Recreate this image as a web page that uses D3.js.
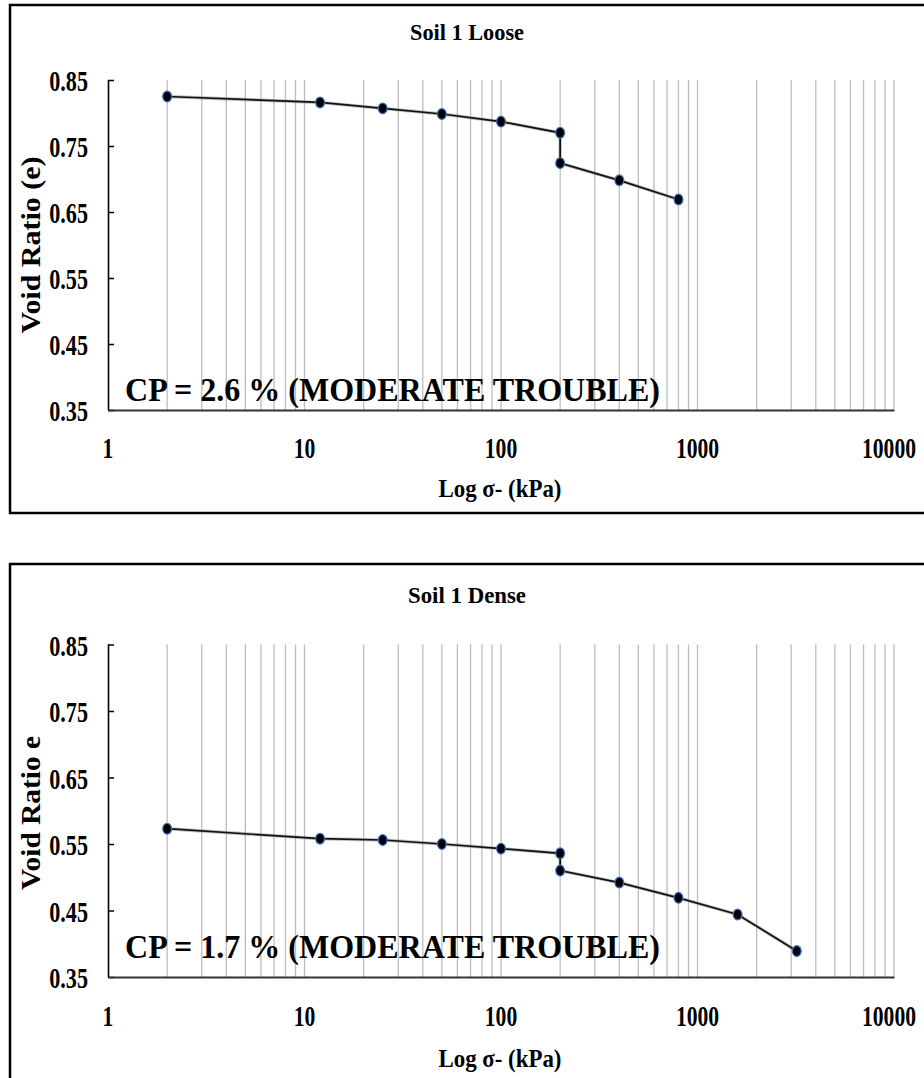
<!DOCTYPE html>
<html>
<head>
<meta charset="utf-8">
<script src="https://cdn.jsdelivr.net/npm/d3@7"></script>
<style>
  html, body { margin: 0; padding: 0; background: #fff; }
  svg text { font-family: "Liberation Serif", "Times New Roman", Tinos, serif; font-weight: 700; fill: #000; }
</style>
</head>
<body>
<svg id="chart" width="924" height="1078" font-family="Liberation Serif, Times New Roman, serif"></svg>
<script>
// ---- data ----
const looseStress = [2, 12, 25, 50, 100, 200, 200, 400, 800];
const looseVoid   = [0.825, 0.816, 0.807, 0.7985, 0.787, 0.770, 0.724, 0.698, 0.669];
const denseStress = [2, 12, 25, 50, 100, 200, 200, 400, 800, 1600, 3200];
const denseVoid   = [0.573, 0.558, 0.556, 0.550, 0.543, 0.536, 0.510, 0.492, 0.469, 0.444, 0.389];
const yTicks = [0.35, 0.45, 0.55, 0.65, 0.75, 0.85];
const xTickValues = [1, 10, 100, 1000, 10000];
const xTickLabels = ["1", "10", "100", "1000", "10000"];
const titles = ["Soil 1 Loose", "Soil 1 Dense"];
const yTitles = ["Void Ratio (e)", "Void Ratio e"];
const xTitle = "Log σ- (kPa)";
const cpLabels = ["CP = 2.6 % (MODERATE TROUBLE)", "CP = 1.7 % (MODERATE TROUBLE)"];

// ---- layout ----
const panels = [
  { stress: looseStress, voids: looseVoid, title: titles[0], yTitle: yTitles[0], cp: cpLabels[0],
    boxTop: 5, boxH: 508, plotTop: 80, plotBottom: 410, titleY: 32, tickY: 448, xTitleY: 488,
    yTitleY: 245, yTitleLen: 177, cpY: 400.5, titleLen: 114 },
  { stress: denseStress, voids: denseVoid, title: titles[1], yTitle: yTitles[1], cp: cpLabels[1],
    boxTop: 564, boxH: 620, plotTop: 644.5, plotBottom: 977, titleY: 595, tickY: 1016, xTitleY: 1058,
    yTitleY: 813, yTitleLen: 154, cpY: 958, titleLen: 118 }
];

const svg = d3.select("#chart");
svg.append("rect").attr("width", 924).attr("height", 1078).attr("fill", "#fff");

function fitTo(sel, width) {
  sel.attr("textLength", width).attr("lengthAdjust", "spacingAndGlyphs");
}
// approximate label width: ~10.8 px per digit, ~5.4 px per point
function labelWidth(s) {
  let w = 0;
  for (const c of s) w += (c === ".") ? 5.4 : 10.8;
  return w;
}

const x = d3.scaleLog().domain([1, 10000]).range([108, 894]);

panels.forEach(p => {
  const y = d3.scaleLinear().domain([0.35, 0.85]).range([p.plotBottom, p.plotTop]);
  const g = svg.append("g");

  // outer frame
  g.append("rect").attr("x", 10).attr("y", p.boxTop).attr("width", 940).attr("height", p.boxH)
    .attr("fill", "none").attr("stroke", "#000").attr("stroke-width", 2.5);

  // vertical grid lines
  const grid = x.ticks().filter(v => v > 1);
  g.append("g").selectAll("line").data(grid).join("line")
    .attr("x1", d => x(d)).attr("x2", d => x(d))
    .attr("y1", p.plotTop).attr("y2", p.plotBottom)
    .attr("stroke", "#bdbdbd").attr("stroke-width", 1.3);

  // y axis
  const yAxis = d3.axisRight(y).tickValues(yTicks).tickSize(6).tickFormat("");
  const ya = g.append("g").attr("transform", "translate(108,0)").call(yAxis);
  ya.select(".domain").attr("stroke", "#000").attr("stroke-width", 1.6).attr("d",
    `M0.5,${p.plotTop}V${p.plotBottom}`);
  ya.selectAll(".tick line").attr("stroke", "#000").attr("stroke-width", 1.5);

  // y tick labels
  g.append("g").selectAll("text").data(yTicks).join("text")
    .attr("x", 88).attr("y", d => y(d) + 1)
    .attr("text-anchor", "end").attr("dominant-baseline", "central")
    .attr("font-size", 29).text(d => d.toFixed(2))
    .each(function(d) { d3.select(this).call(fitTo, labelWidth(d.toFixed(2)) + 1); });

  // x axis line
  const xAxis = d3.axisBottom(x).tickValues(xTickValues).tickSize(0).tickFormat("");
  const xa = g.append("g").attr("transform", `translate(0,${p.plotBottom})`).call(xAxis);
  xa.select(".domain").attr("stroke", "#333").attr("stroke-width", 2.2);

  // x tick labels
  g.append("g").selectAll("text").data(xTickValues).join("text")
    .attr("x", (d, i) => i === xTickValues.length - 1 ? x(d) + 22 : x(d))
    .attr("y", p.tickY)
    .attr("text-anchor", (d, i) => i === xTickValues.length - 1 ? "end" : "middle")
    .attr("dominant-baseline", "central")
    .attr("font-size", 29).text((d, i) => xTickLabels[i])
    .each(function(d, i) { d3.select(this).call(fitTo, labelWidth(xTickLabels[i])); });

  // CP annotation
  g.append("text").attr("x", 125).attr("y", p.cpY)
    .attr("font-size", 34).text(p.cp).call(fitTo, 535);

  // series line + markers
  const pts = p.stress.map((s, i) => [s, p.voids[i]]);
  const line = d3.line().x(d => x(d[0])).y(d => y(d[1]));
  g.append("path").datum(pts).attr("d", line).attr("fill", "none")
    .attr("stroke", "#9a9a9a").attr("stroke-width", 3.4).attr("opacity", 0.6);
  g.append("path").datum(pts).attr("d", line).attr("fill", "none")
    .attr("stroke", "#111").attr("stroke-width", 1.7);
  g.append("g").selectAll("ellipse").data(pts).join("ellipse")
    .attr("cx", d => x(d[0])).attr("cy", d => y(d[1]))
    .attr("rx", 4.4).attr("ry", 5.4)
    .attr("fill", "#000").attr("stroke", "#3d6fc9").attr("stroke-width", 1.2);

  // chart title
  g.append("text").attr("x", 467).attr("y", p.titleY)
    .attr("text-anchor", "middle").attr("dominant-baseline", "central")
    .attr("font-size", 23).text(p.title).call(fitTo, p.titleLen);

  // x title
  g.append("text").attr("x", 500).attr("y", p.xTitleY)
    .attr("text-anchor", "middle").attr("dominant-baseline", "central")
    .attr("font-size", 25).text(xTitle).call(fitTo, 123);

  // y title
  g.append("text")
    .attr("transform", `translate(31,${p.yTitleY}) rotate(-90)`)
    .attr("text-anchor", "middle").attr("dominant-baseline", "central")
    .attr("font-size", 27).text(p.yTitle).call(fitTo, p.yTitleLen);
});
</script>
</body>
</html>
